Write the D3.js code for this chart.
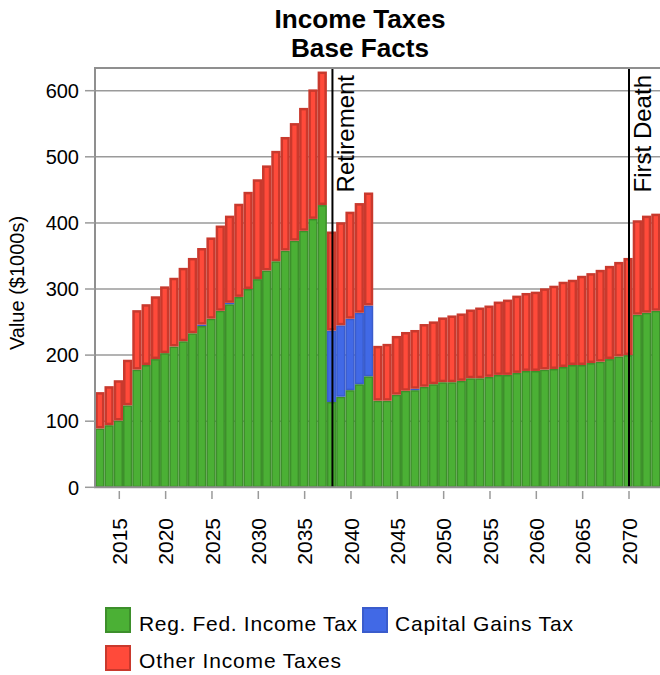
<!DOCTYPE html>
<html>
<head>
<meta charset="utf-8">
<script src="https://cdn.jsdelivr.net/npm/d3@7/dist/d3.min.js"></script>
<style>
  html, body { margin: 0; padding: 0; background: #fff; }
  svg { display: block; font-family: "Liberation Sans", Arial, sans-serif; }
</style>
</head>
<body>
<svg id="chart" width="660" height="675"></svg>
<script>
// Income taxes per year, in $1000s
const years = d3.range(2013, 2074);
const regFedIncomeTax = [
  89, 94, 101, 124, 178, 185, 194, 203, 213, 221, 233, 244, 255, 267, 277, 288, 300, 315, 328, 342, 358, 373, 388, 406, 427,
  129, 137, 147, 156, 168,
  131, 131, 140, 146, 147, 152, 156, 159, 159, 161, 165, 165, 167, 170, 170, 173, 176, 176, 178, 179, 182, 185, 185, 188, 190, 194, 198, 200,
  261, 264, 267
];
const capitalGainsTax = [
  0, 0, 0, 0, 0, 0, 0, 0, 0, 0, 0, 2, 0, 0, 2, 0, 0, 0, 0, 0, 0, 0, 0, 0, 0,
  108, 108, 108, 108, 107,
  0, 0, 0, 0, 2, 0, 0, 0, 0, 0, 0, 0, 0, 0, 0, 0, 0, 0, 0, 0, 0, 0, 0, 0, 0, 0, 0, 0,
  0, 0, 0
];
const otherIncomeTaxes = [
  55, 59, 61, 69, 90, 92, 95, 101, 104, 111, 114, 116, 123, 129, 132, 141, 147, 151, 159, 167, 172, 178, 186, 196, 202,
  150, 156, 162, 166, 171,
  83, 86, 89, 89, 89, 95, 95, 98, 101, 102, 104, 107, 108, 111, 114, 117, 118, 120, 123, 126, 129, 129, 135, 136, 139, 141, 143, 147,
  143, 147, 147
];
const seriesNames = ["Reg. Fed. Income Tax", "Capital Gains Tax", "Other Income Taxes"];
const yTicks = [0, 100, 200, 300, 400, 500, 600];
const xTicks = [2015, 2020, 2025, 2030, 2035, 2040, 2045, 2050, 2055, 2060, 2065, 2070];
const events = [{ year: 2038, label: "Retirement" }, { year: 2070, label: "First Death" }];

const fills = ["#4bb035", "#4169e6", "#ff4a3a"];
const strokes = ["#3d8f2b", "#3a5ccc", "#c9392d"];
const strokeW = [1.5, 1.5, 2.5];

const svg = d3.select("#chart");
const plotLeft = 95, plotRight = 680, plotTop = 68, plotBottom = 487.3;

const x = d3.scaleLinear().domain([2015, 2070]).range([119.3, 629]);
const y = d3.scaleLinear().domain([0, 600]).range([plotBottom, 90.7]);

const rows = years.map((yr, i) => ({
  year: yr,
  reg: regFedIncomeTax[i],
  cap: capitalGainsTax[i],
  other: otherIncomeTaxes[i]
}));
const stacked = d3.stack().keys(["reg", "cap", "other"])(rows);

// Title
const title = svg.append("g").attr("font-weight", "bold").attr("font-size", 25).attr("text-anchor", "middle");
title.append("text").attr("x", 360).attr("y", 28).attr("textLength", 171).attr("lengthAdjust", "spacingAndGlyphs").text("Income Taxes");
title.append("text").attr("x", 360).attr("y", 57).attr("textLength", 138).attr("lengthAdjust", "spacingAndGlyphs").text("Base Facts");

// Gridlines
svg.append("g").selectAll("line").data(yTicks.filter(d => d > 0)).join("line")
  .attr("x1", plotLeft).attr("x2", plotRight)
  .attr("y1", d => y(d)).attr("y2", d => y(d))
  .attr("stroke", "#9a9a9a").attr("stroke-width", 1.5);

// Bars
svg.append("clipPath").attr("id", "plotclip").append("rect")
  .attr("x", plotLeft).attr("y", plotTop).attr("width", plotRight - plotLeft).attr("height", plotBottom - plotTop);
const barsG = svg.append("g").attr("clip-path", "url(#plotclip)");
stacked.forEach((layer, k) => {
  const sw = strokeW[k];
  const segs = layer.filter(d => d[1] - d[0] > 0);
  const thin = d => (y(d[0]) - y(d[1])) <= sw * 2;
  barsG.append("g").selectAll("rect")
    .data(segs)
    .join("rect")
    .attr("x", d => x(d.data.year - 0.6) + (thin(d) ? 0 : sw / 2))
    .attr("width", d => x(d.data.year + 0.4) - x(d.data.year - 0.6) - (thin(d) ? 0 : sw))
    .attr("y", d => y(d[1]) + (thin(d) ? 0 : sw / 2))
    .attr("height", d => y(d[0]) - y(d[1]) - (thin(d) ? 0 : sw))
    .attr("fill", d => thin(d) ? strokes[k] : fills[k])
    .attr("stroke", d => thin(d) ? "none" : strokes[k])
    .attr("stroke-width", sw);
});

// Event markers
events.forEach(ev => {
  svg.append("line")
    .attr("x1", x(ev.year)).attr("x2", x(ev.year))
    .attr("y1", plotTop).attr("y2", plotBottom)
    .attr("stroke", "#000").attr("stroke-width", 2);
  svg.append("text")
    .attr("transform", `translate(${x(ev.year) + 22},${plotTop + 7}) rotate(-90)`)
    .attr("text-anchor", "end")
    .attr("font-size", 24)
    .text(ev.label);
});

// Plot frame (left, top, bottom)
svg.append("path")
  .attr("d", `M${plotRight},${plotTop}H${plotLeft}V${plotBottom}H${plotRight}`)
  .attr("fill", "none").attr("stroke", "#8f8f8f").attr("stroke-width", 2);

// Y axis
const yAxis = svg.append("g");
yAxis.selectAll("line").data(yTicks).join("line")
  .attr("x1", 85).attr("x2", plotLeft).attr("y1", d => y(d)).attr("y2", d => y(d))
  .attr("stroke", "#9a9a9a").attr("stroke-width", 1.5);
yAxis.selectAll("text").data(yTicks).join("text")
  .attr("x", 79).attr("y", d => y(d)).attr("dy", "0.36em")
  .attr("text-anchor", "end").attr("font-size", 20)
  .text(d => d);
svg.append("text")
  .attr("transform", `translate(24,283) rotate(-90)`)
  .attr("text-anchor", "middle").attr("font-size", 20)
  .text("Value ($1000s)");

// X axis
const xAxis = svg.append("g");
xAxis.selectAll("line").data(xTicks).join("line")
  .attr("x1", d => x(d)).attr("x2", d => x(d)).attr("y1", 491).attr("y2", 499)
  .attr("stroke", "#9a9a9a").attr("stroke-width", 1.5);
xAxis.selectAll("text").data(xTicks).join("text")
  .attr("transform", d => `translate(${x(d)},${518}) rotate(-90)`)
  .attr("text-anchor", "end").attr("dy", "0.36em").attr("font-size", 21)
  .text(d => d);

// Legend
const legendItems = [
  { k: 0, sx: 105, sy: 607, tx: 139, ty: 631, len: 218 },
  { k: 1, sx: 362, sy: 607, tx: 395, ty: 631, len: 178 },
  { k: 2, sx: 105, sy: 645, tx: 139, ty: 668, len: 202 }
];
const legend = svg.append("g");
legendItems.forEach(it => {
  legend.append("rect")
    .attr("x", it.sx + 1).attr("y", it.sy + 1).attr("width", 24).attr("height", 24)
    .attr("fill", fills[it.k]).attr("stroke", strokes[it.k]).attr("stroke-width", 2);
  legend.append("text")
    .attr("x", it.tx).attr("y", it.ty).attr("font-size", 21)
    .attr("textLength", it.len).attr("lengthAdjust", "spacing")
    .text(seriesNames[it.k]);
});
</script>
</body>
</html>
